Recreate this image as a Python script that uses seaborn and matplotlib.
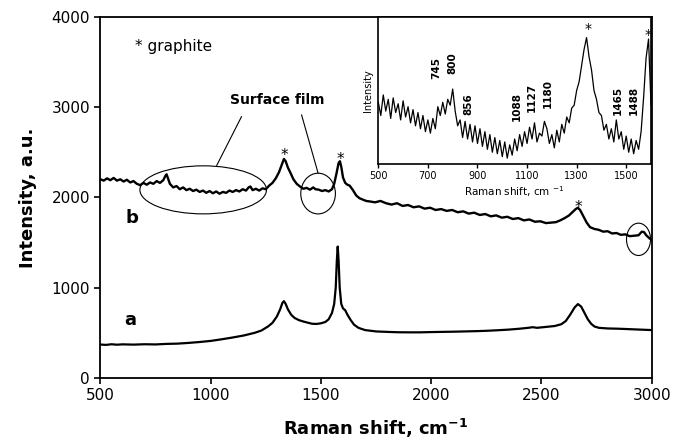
import numpy as np
import pandas as pd
import seaborn as sns
import matplotlib.pyplot as plt
from matplotlib.patches import Ellipse

# spectrum a (main panel)
shift_a = [500, 525, 550, 575, 600, 650, 700, 750, 800, 850, 900, 950, 1000, 1050, 1100, 1150,
           1200, 1230, 1260, 1280, 1300, 1315, 1325, 1332, 1340, 1350, 1365, 1380, 1400, 1420,
           1440, 1460, 1480, 1500, 1520, 1535, 1550, 1560, 1567, 1572, 1576, 1580, 1585, 1592,
           1600, 1610, 1620, 1635, 1650, 1670, 1700, 1750, 1800, 1850, 1900, 1950, 2000, 2050,
           2100, 2150, 2200, 2250, 2300, 2350, 2400, 2440, 2460, 2480, 2520, 2560, 2590, 2610,
           2630, 2650, 2665, 2680, 2695, 2710, 2725, 2740, 2760, 2800, 2850, 2900, 2950, 3000]
int_a = [370, 366, 373, 368, 372, 369, 373, 371, 377, 380, 388, 398, 410, 428, 448, 470,
         500, 525, 570, 610, 680, 760, 830, 850, 820, 760, 700, 665, 640, 625,
         612, 600, 598, 605, 620, 650, 720, 820, 1000, 1300, 1455, 1300, 1000, 820,
         770, 750, 700, 640, 590, 555, 530, 515, 510, 506, 505, 505, 508, 510,
         512, 515, 518, 522, 528, 535, 545, 555, 562, 555, 565, 575, 595, 630,
         700, 780, 818, 790, 720, 650, 600, 570, 555, 548, 545, 540, 535, 530]

# spectrum b (main panel)
shift_b = [500, 515, 530, 545, 560, 575, 590, 605, 620, 635, 650, 665, 680, 695, 710, 725,
           740, 755, 770, 785, 795, 800, 808, 815, 830, 845, 860, 875, 890, 905, 920, 935,
           950, 965, 980, 995, 1010, 1025, 1040, 1055, 1070, 1085, 1100, 1115, 1130, 1145,
           1160, 1172, 1180, 1190, 1205, 1220, 1235, 1250, 1265, 1280, 1295, 1310, 1322, 1332,
           1340, 1350, 1362, 1375, 1390, 1405, 1420, 1435, 1450, 1465, 1475, 1490, 1505, 1520,
           1535, 1550, 1560, 1570, 1580, 1586, 1592, 1600, 1610, 1620, 1630, 1645, 1660, 1675,
           1690, 1705, 1720, 1745, 1770, 1795, 1820, 1845, 1870, 1895, 1920, 1945, 1970, 1995,
           2020, 2045, 2070, 2095, 2120, 2145, 2170, 2195, 2220, 2245, 2270, 2295, 2320, 2345,
           2370, 2395, 2420, 2445, 2470, 2495, 2520, 2545, 2565, 2585, 2605, 2625, 2640, 2655,
           2665, 2675, 2690, 2705, 2720, 2740, 2760, 2780, 2800, 2820, 2840, 2860, 2880, 2900,
           2920, 2940, 2955, 2965, 2975, 2990, 3000]
int_b = [2200, 2185, 2210, 2190, 2215, 2185, 2200, 2175, 2195, 2165, 2180, 2150, 2135, 2160, 2140, 2165,
         2150, 2180, 2160, 2190, 2240, 2255, 2200, 2150, 2110, 2125, 2090, 2110, 2080, 2095, 2070, 2085,
         2060, 2075, 2050, 2070, 2045, 2065, 2040, 2060, 2050, 2075, 2060, 2080, 2065, 2090,
         2075, 2110, 2120, 2080, 2095, 2075, 2100, 2090, 2130, 2160, 2210, 2280, 2360, 2425,
         2400, 2330, 2270, 2200, 2150, 2120, 2095, 2105, 2085, 2110, 2090, 2085, 2070, 2080,
         2065, 2090, 2150, 2260, 2380, 2400, 2340, 2220, 2160, 2140, 2130, 2080, 2020, 1990,
         1975, 1960, 1955, 1945, 1960, 1935, 1920, 1935, 1905, 1915, 1890, 1900, 1875, 1885,
         1860, 1870, 1850, 1860, 1835, 1845, 1820, 1830, 1805, 1815, 1790, 1800, 1775, 1785,
         1760, 1770, 1745, 1755, 1730, 1735, 1715, 1720, 1725, 1745, 1770, 1800, 1835, 1870,
         1885, 1860, 1790, 1720, 1670, 1650, 1640, 1620, 1625, 1600, 1605, 1585, 1590, 1570,
         1575, 1580, 1620, 1615, 1580, 1545, 1530]

# inset: spectrum b, 500-1600 cm-1
shift_inset = list(range(500, 1601, 10))
int_inset = [42, 33, 47, 36, 44, 31, 45, 35, 41, 30, 43, 32, 39, 28, 37, 26, 35, 24, 33, 22,
             30, 21, 31, 24, 39, 33, 42, 34, 44, 40, 51, 36, 26, 30, 18, 29, 17, 27, 15, 26,
             14, 24, 12, 22, 10, 20, 8, 18, 7, 16, 5, 15, 4, 13, 6, 17, 9, 20, 12, 22,
             14, 25, 17, 28, 15, 21, 19, 29, 24, 14, 20, 11, 23, 15, 27, 21, 32, 28, 38, 40,
             50, 56, 67, 78, 86, 73, 64, 50, 44, 35, 33, 23, 27, 17, 24, 15, 30, 17, 22, 10,
             19, 8, 17, 7, 16, 10, 22, 45, 72, 85, 40]

inset_peaks = ["745", "800", "856", "1088", "1127", "1180", "1465", "1488"]
inset_peak_x = [735, 800, 862, 1057, 1120, 1184, 1466, 1531]
inset_peak_y = [65, 68.5, 41, 39, 45, 48, 43.5, 43.5]

df_a = pd.DataFrame({"shift": shift_a, "intensity": int_a})
df_b = pd.DataFrame({"shift": shift_b, "intensity": int_b})
df_in = pd.DataFrame({"shift": shift_inset, "intensity": int_inset})

sns.set_style("ticks")
plt.rcParams['font.family'] = ['DejaVu Sans']
plt.rcParams['text.color'] = 'black'
plt.rcParams['axes.labelcolor'] = 'black'
plt.rcParams['xtick.color'] = 'black'
plt.rcParams['ytick.color'] = 'black'

fig = plt.figure(figsize=(6.74, 4.41), dpi=100)
ax = fig.add_axes([0.149, 0.143, 0.818, 0.819])

sns.lineplot(data=df_a, x="shift", y="intensity", ax=ax, color="black", lw=1.6,
             estimator=None, sort=False)
sns.lineplot(data=df_b, x="shift", y="intensity", ax=ax, color="black", lw=1.7,
             estimator=None, sort=False)

ax.set_xlim(500, 3000)
ax.set_ylim(0, 4000)
ax.set_xticks([500, 1000, 1500, 2000, 2500, 3000])
ax.set_yticks([0, 1000, 2000, 3000, 4000])
ax.tick_params(labelsize=11, direction="out", length=4, width=1.2, colors="black")
for s in ax.spines.values():
    s.set_linewidth(1.3)
    s.set_color("black")
ax.set_xlabel(r"Raman shift, cm$^{\mathbf{-1}}$", fontsize=13, fontweight="bold", labelpad=10)
ax.set_ylabel("Intensity, a.u.", fontsize=13, fontweight="bold", labelpad=10)

# annotations
ax.text(656, 3670, "* graphite", fontsize=11, va="center", ha="left")
ax.text(637, 643, "a", fontsize=13, fontweight="bold", ha="center", va="center")
ax.text(641, 1773, "b", fontsize=13, fontweight="bold", ha="center", va="center")
for x, y in [(1336, 2460), (1589, 2420), (2666, 1890)]:
    ax.text(x, y, "*", fontsize=11, ha="center", va="center")

ax.text(1300, 3080, "Surface film", fontsize=10, fontweight="bold", ha="center", va="center")
ax.plot([1140, 1027], [2895, 2352], color="black", lw=0.8)
ax.plot([1412, 1487], [2914, 2268], color="black", lw=0.8)
for cx, cy, w, h in [(966, 2083, 574, 532), (1487, 2042, 157, 451), (2940, 1535, 109, 358)]:
    ax.add_patch(Ellipse((cx, cy), w, h, fill=False, edgecolor="black", lw=0.8))

# inset
axin = fig.add_axes([0.5613, 0.6281, 0.4046, 0.3333])
axin.set_facecolor("white")
sns.lineplot(data=df_in, x="shift", y="intensity", ax=axin, color="black", lw=0.9,
             estimator=None, sort=False)
axin.set_xlim(500, 1600)
axin.set_ylim(0, 100)
axin.set_xticks([500, 700, 900, 1100, 1300, 1500])
axin.set_yticks([])
axin.tick_params(labelsize=7, direction="out", length=3, width=1, pad=2)
for s in axin.spines.values():
    s.set_linewidth(1.2)
    s.set_color("black")
axin.set_xlabel(r"Raman shift, cm $^{-1}$", fontsize=7.5, labelpad=2)
axin.set_ylabel("Intensity", fontsize=7, labelpad=4)
for lab, x, y in zip(inset_peaks, inset_peak_x, inset_peak_y):
    axin.text(x, y, lab, fontsize=7.5, fontweight="bold", rotation=90,
              ha="center", va="center")
for x, y in [(1345, 92), (1588, 88)]:
    axin.text(x, y, "*", fontsize=10, ha="center", va="center", clip_on=False)

fig.savefig("out.png", dpi=100)
